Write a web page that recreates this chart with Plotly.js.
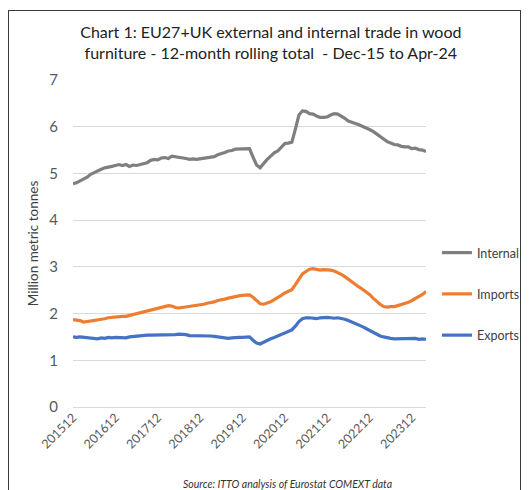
<!DOCTYPE html>
<html><head><meta charset="utf-8">
<script src="https://cdn.plot.ly/plotly-3.0.1.min.js"></script>
<style>
html,body{margin:0;padding:0;background:#fff;}
#wrap{position:relative;width:529px;height:490px;}
#chart{position:absolute;left:0;top:0;width:529px;height:490px;}
#frame{position:absolute;left:8px;top:10px;width:513px;height:490px;border:1px solid #3a3a3a;pointer-events:none;box-sizing:border-box;}
</style>
</head><body>
<div id="wrap"><div id="chart"></div><div id="frame"></div></div>
<script>
// Months Dec-2015 .. Apr-2024 (101 points)
const months = [];
for (let y = 2015, m = 12; months.length < 101; ) {
  months.push(String(y) + (m < 10 ? '0' + m : String(m)));
  m++; if (m > 12) { m = 1; y++; }
}
const tickLabels = ['201512','201612','201712','201812','201912','202012','202112','202212','202312'];

const internal = [4.78,4.80,4.84,4.88,4.92,4.98,5.02,5.05,5.09,5.12,5.13,5.15,5.17,5.19,5.17,5.19,5.15,5.18,5.17,5.19,
  5.21,5.23,5.28,5.30,5.29,5.33,5.34,5.32,5.37,5.36,5.35,5.34,5.32,5.30,5.31,5.30,5.31,5.33,5.33,5.34,
  5.36,5.40,5.42,5.45,5.48,5.49,5.52,5.52,5.53,5.52,5.53,5.35,5.18,5.12,5.22,5.30,5.37,5.44,5.48,5.57,
  5.64,5.65,5.67,5.95,6.25,6.34,6.33,6.28,6.27,6.23,6.20,6.20,6.21,6.25,6.28,6.27,6.23,6.18,6.12,6.10,
  6.07,6.04,6.01,5.97,5.94,5.90,5.84,5.78,5.72,5.68,5.65,5.62,5.61,5.58,5.57,5.57,5.53,5.54,5.51,5.50,5.47];
const imports = [1.87,1.86,1.85,1.82,1.83,1.85,1.86,1.86,1.87,1.89,1.91,1.92,1.92,1.93,1.94,1.94,1.96,1.98,2.00,2.02,
  2.04,2.05,2.07,2.09,2.11,2.13,2.15,2.17,2.16,2.13,2.12,2.13,2.14,2.15,2.16,2.18,2.19,2.20,2.22,2.23,
  2.25,2.28,2.29,2.31,2.33,2.35,2.37,2.38,2.39,2.40,2.40,2.35,2.28,2.21,2.20,2.22,2.25,2.30,2.34,2.39,
  2.44,2.47,2.51,2.62,2.73,2.85,2.90,2.95,2.96,2.94,2.93,2.94,2.94,2.93,2.91,2.88,2.84,2.79,2.73,2.67,
  2.62,2.57,2.52,2.47,2.41,2.33,2.26,2.20,2.15,2.14,2.15,2.15,2.17,2.19,2.21,2.24,2.28,2.32,2.36,2.41,2.47];
const exports_ = [1.50,1.49,1.50,1.49,1.49,1.48,1.47,1.46,1.48,1.47,1.49,1.48,1.49,1.49,1.48,1.48,1.50,1.51,1.52,1.53,
  1.53,1.54,1.54,1.54,1.54,1.54,1.54,1.54,1.55,1.55,1.56,1.56,1.55,1.53,1.53,1.53,1.53,1.53,1.52,1.52,
  1.51,1.50,1.48,1.48,1.47,1.48,1.49,1.49,1.49,1.49,1.50,1.43,1.37,1.35,1.39,1.42,1.46,1.49,1.52,1.55,
  1.58,1.61,1.65,1.73,1.83,1.89,1.91,1.91,1.90,1.89,1.91,1.92,1.92,1.91,1.90,1.91,1.90,1.88,1.85,1.82,
  1.78,1.75,1.72,1.68,1.64,1.60,1.56,1.52,1.50,1.48,1.47,1.46,1.46,1.46,1.46,1.46,1.46,1.47,1.45,1.46,1.45];

const seriesNames = ['Internal','Imports','Exports'];
const seriesColors = ['#7f7f7f','#ed7d31','#4472c4'];
const seriesData = [internal, imports, exports_];

const FONT = 'Lato, "Open Sans", sans-serif';
const traces = seriesData.map((d, i) => ({
  type: 'scatter', mode: 'lines', x: months, y: d, name: seriesNames[i],
  line: {color: seriesColors[i], width: 3.2}, legendgroup: 'g' + i
}));

const layout = {
  width: 529, height: 490,
  margin: {l: 73, r: 103, t: 80, b: 83, autoexpand: false},
  paper_bgcolor: '#fff', plot_bgcolor: '#fff',
  font: {family: FONT, color: '#595959'},
  title: {text: 'Chart 1: EU27+UK external and internal trade in wood<br>furniture - 12-month rolling total  - Dec-15 to Apr-24',
    font: {family: FONT, size: 16, color: '#222'}, x: 0.512, xanchor: 'center', y: 0.922, yanchor: 'top'},
  xaxis: {type: 'category', range: [0, 100], tickmode: 'array', tickvals: tickLabels, ticktext: tickLabels,
    tickangle: -45, showgrid: false, showline: false, ticks: '', tickfont: {size: 12.5, color: '#595959', family: FONT}},
  yaxis: {range: [0, 7], dtick: 1, showgrid: true, gridcolor: '#d9d9d9', gridwidth: 1, zeroline: true,
    zerolinecolor: '#d9d9d9', zerolinewidth: 1, ticks: '', ticklen: 0, ticklabelstandoff: 14,
    tickfont: {size: 15, color: '#595959', family: FONT},
    title: {text: 'Million metric tonnes', font: {size: 13.5, color: '#404040', family: FONT}, standoff: 7}},
  showlegend: true,
  legend: {xref: 'container', yref: 'container', x: 0.826, xanchor: 'left', y: 0.40, yanchor: 'middle',
    traceorder: 'grouped', tracegroupgap: 22, font: {size: 12.5, color: '#404040', family: FONT}},
  annotations: [{text: '<i>Source: ITTO analysis of Eurostat COMEXT data</i>', xref: 'paper', yref: 'paper',
    x: 0.608, y: -0.235, xanchor: 'center', yanchor: 'middle', showarrow: false,
    font: {size: 10.5, color: '#333', family: FONT}}]
};
Plotly.newPlot('chart', traces, layout, {displayModeBar: false, staticPlot: true});
</script>
</body></html>
